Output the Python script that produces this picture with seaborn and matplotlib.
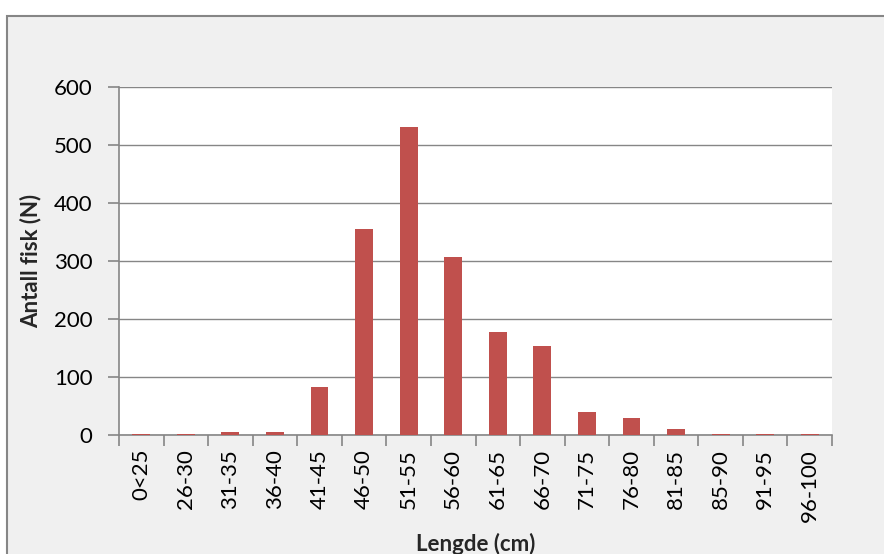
import matplotlib
matplotlib.use("Agg")
import matplotlib.pyplot as plt
import seaborn as sns
import pandas as pd
from matplotlib.patches import Rectangle
from matplotlib.ticker import FixedLocator

# Length classes and number of fish
lengths = ["0<25", "26-30", "31-35", "36-40", "41-45", "46-50", "51-55", "56-60",
           "61-65", "66-70", "71-75", "76-80", "81-85", "85-90", "91-95", "96-100"]
counts = [1, 2, 5, 5, 82, 355, 531, 307, 178, 154, 40, 29, 10, 1, 1, 1]
y_ticks = [0, 100, 200, 300, 400, 500, 600]

df = pd.DataFrame({"Lengde": lengths, "Antall": counts})

sns.set_style("white")
plt.rcParams["font.family"] = ["Lato", "DejaVu Sans"]

fig = plt.figure(figsize=(8.84, 5.54), dpi=100)
fig.patch.set_facecolor("white")
# grey chart area with border
fig.patches.append(Rectangle((7 / 884, -0.05), 1.0, 1 - 16 / 554 + 0.05,
                             transform=fig.transFigure, facecolor="#F0F0F0",
                             edgecolor="#868686", linewidth=1.5, zorder=-5))

ax = fig.add_axes([119 / 884, 1 - 435 / 554, 713 / 884, 348 / 554])
ax.set_zorder(2)
sns.barplot(data=df, x="Lengde", y="Antall", color="#C0504D", width=0.4,
            saturation=1, linewidth=0, ax=ax, zorder=3)
ax.set_facecolor("white")
ax.set_xlim(-0.5, len(lengths) - 0.5)
ax.set_ylim(0, 600)
ax.set_yticks(y_ticks)
ax.yaxis.grid(True, color="#868686", linewidth=1)
ax.set_axisbelow(True)

for s in ["top", "right"]:
    ax.spines[s].set_visible(False)
for s in ["left", "bottom"]:
    ax.spines[s].set_color("#868686")
    ax.spines[s].set_linewidth(1.2)

ax.tick_params(axis="x", which="major", bottom=True, length=0, labelsize=16,
               rotation=90, pad=10, colors="black")
ax.xaxis.set_minor_locator(FixedLocator([i - 0.5 for i in range(len(lengths) + 1)]))
ax.tick_params(axis="x", which="minor", bottom=True, length=8, color="#868686", width=1.2)
ax.tick_params(axis="y", left=True, length=8, color="#868686", width=1.2,
               labelsize=16, labelcolor="black", pad=11)

ax.set_xlabel("Lengde (cm)", fontsize=16, fontweight="bold", labelpad=8)
ax.set_ylabel("Antall fisk (N)", fontsize=16, fontweight="bold", labelpad=9)

fig.savefig("out.png", dpi=100)
